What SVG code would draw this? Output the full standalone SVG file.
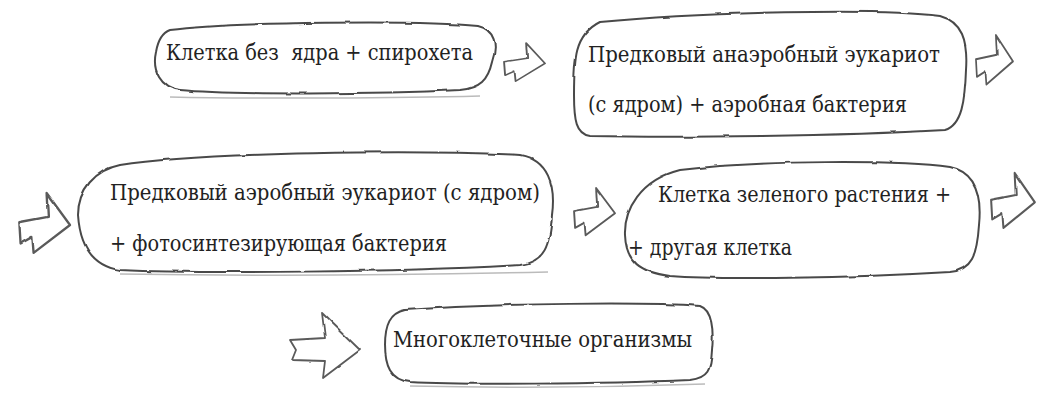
<svg xmlns="http://www.w3.org/2000/svg" xmlns:xlink="http://www.w3.org/1999/xlink" width="1052" height="401" viewBox="0 0 1052 401">
<style>
.box{fill:#fff;stroke:#4a4a4a;stroke-width:2;stroke-linejoin:round;filter:url(#rough)}
.shadow{fill:none;stroke:#bbb;stroke-width:1.5}
.arr{fill:#fff;stroke:#5a5a5a;stroke-width:1.8;stroke-linejoin:round;filter:url(#rough)}
.t{font-family:"DejaVu Serif","Times New Roman","Liberation Serif",Tinos,"Noto Serif",FreeSerif,serif;font-size:23px;fill:#222}
</style>
<defs>
<filter id="rough" x="-5%" y="-10%" width="110%" height="120%">
<feTurbulence type="fractalNoise" baseFrequency="0.05" numOctaves="2" seed="3" result="n"/>
<feDisplacementMap in="SourceGraphic" in2="n" scale="2.5" xChannelSelector="R" yChannelSelector="G"/>
</filter>
<path id="zig" d="M 22,0 L 23,18 L 1,22 L 2,38 L 11,33 L 12,45 L 40,24 Z"/>
</defs>
<rect width="1052" height="401" fill="#fff"/>

<g id="node1">
<path class="shadow" d="M 170,97 C 260,99 400,98 480,96"/>
<path class="box" d="M 170,30 C 230,22 420,20 478,26 C 495,30 498,45 492,62 C 488,80 480,88 460,90 C 380,94 230,95 180,90 C 160,88 152,70 156,52 C 158,40 162,33 170,30 Z"/>
<text class="t" x="166" y="60" textLength="307" lengthAdjust="spacingAndGlyphs" xml:space="preserve" style="white-space:pre">Клетка без  ядра + спирохета</text>
</g>

<g id="node2">
<path class="box" d="M 600,22 C 700,12 880,8 940,16 C 962,22 968,40 966,70 C 965,100 962,125 945,130 C 840,136 680,138 590,136 C 576,134 574,120 574,95 C 574,60 574,35 600,22 Z"/>
<text class="t" x="588" y="62" textLength="352" lengthAdjust="spacingAndGlyphs">Предковый анаэробный эукариот</text>
<text class="t" x="588" y="112" textLength="319" lengthAdjust="spacingAndGlyphs">(с ядром) + аэробная бактерия</text>
</g>

<g id="node3">
<path class="shadow" d="M 120,274 C 250,276 420,275 548,272"/>
<path class="box" d="M 120,165 C 200,152 420,150 520,155 C 548,160 556,185 552,215 C 550,245 545,262 520,265 C 400,272 200,274 120,270 C 92,266 80,245 78,215 C 78,190 95,170 120,165 Z"/>
<text class="t" x="110" y="200" textLength="430" lengthAdjust="spacingAndGlyphs">Предковый аэробный эукариот (с ядром)</text>
<text class="t" x="110" y="251" textLength="337" lengthAdjust="spacingAndGlyphs">+ фотосинтезирующая бактерия</text>
</g>

<g id="node4">
<path class="box" d="M 680,170 C 760,160 900,160 950,167 C 975,172 982,195 979,225 C 977,255 972,270 950,272 C 850,278 720,280 670,276 C 640,272 626,262 625,235 C 624,210 640,180 680,170 Z"/>
<text class="t" x="658" y="202" textLength="293" lengthAdjust="spacingAndGlyphs">Клетка зеленого растения +</text>
<text class="t" x="628" y="255" textLength="164" lengthAdjust="spacingAndGlyphs">+ другая клетка</text>
</g>

<g id="node5">
<path class="shadow" d="M 410,386 C 500,388 620,387 705,384"/>
<path class="box" d="M 405,310 C 500,303 650,302 700,306 C 712,310 714,330 712,350 C 711,370 708,378 690,380 C 600,384 460,385 410,382 C 390,380 385,365 385,345 C 385,325 390,313 405,310 Z"/>
<text class="t" x="393" y="347" textLength="299" lengthAdjust="spacingAndGlyphs">Многоклеточные организмы</text>
</g>

<g id="connectors">
<use class="arr" xlink:href="#zig" href="#zig" transform="translate(503,43) scale(1.05,0.85)"/>
<use class="arr" xlink:href="#zig" href="#zig" transform="translate(975,35) scale(0.95,1.1)"/>
<use class="arr" xlink:href="#zig" href="#zig" transform="translate(18,193) scale(1.3,1.33)"/>
<use class="arr" xlink:href="#zig" href="#zig" transform="translate(573,188) scale(1.05,1.05)"/>
<use class="arr" xlink:href="#zig" href="#zig" transform="translate(990,173) scale(1.12,1.22)"/>
<path class="arr" d="M 290,340 L 325,338 L 322,313 L 360,350 L 323,378 L 325,361 L 292,360 L 296,350 Z"/>
</g>
</svg>
